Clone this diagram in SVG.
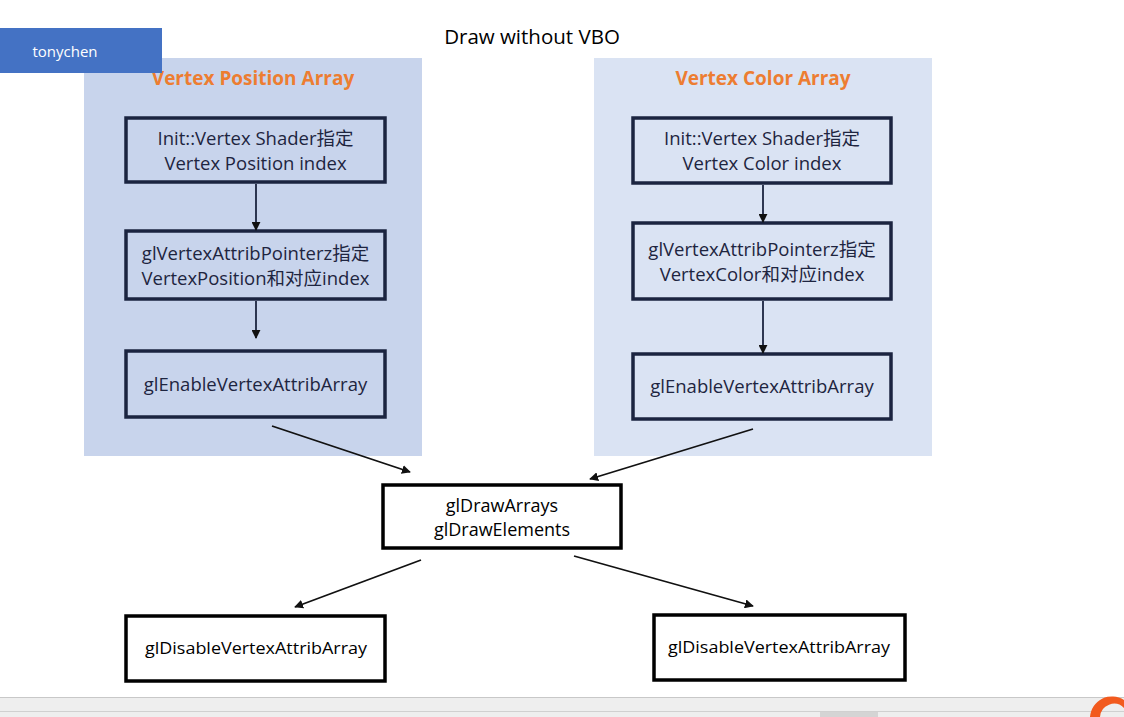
<svg xmlns="http://www.w3.org/2000/svg" width="1124" height="717" viewBox="0 0 1124 717">
<style>
.t{font-family:"Open Sans","Noto Sans","Noto Sans CJK SC",sans-serif;font-size:18.5px;fill:#1E2540;text-anchor:middle}
.tb{font-family:"Open Sans","Noto Sans","Noto Sans CJK SC",sans-serif;font-size:18px;fill:#000;text-anchor:middle}
.pt{font-family:"Open Sans","Noto Sans",sans-serif;font-size:19px;font-weight:bold;fill:#ED7D31;text-anchor:middle}
.box{fill:none;stroke:#1B2440;stroke-width:3.5}
.wbox{fill:#fff;stroke:#000;stroke-width:3.5}
.c{stroke:#1B2440;stroke-width:1.8;fill:none}
.ck{stroke:#111;stroke-width:1.8;fill:none}
</style>
<defs>
<marker id="ah" viewBox="0 0 10 10" refX="9" refY="5" markerWidth="9" markerHeight="9" markerUnits="userSpaceOnUse" orient="auto">
<path d="M0,0 L10,5 L0,10 z" fill="#111"/>
</marker>
</defs>
<rect width="1124" height="717" fill="#fff"/>
<g id="title">
<text x="532" y="44" style="font-family:'Open Sans','Noto Sans',sans-serif;font-size:20.5px;fill:#000;text-anchor:middle">Draw without VBO</text>
</g>
<g id="panel-left">
<rect x="84" y="58" width="338" height="398" fill="#C8D4EC"/>
<text class="pt" x="253" y="85">Vertex Position Array</text>
</g>
<g id="panel-right">
<rect x="594" y="58" width="338" height="398" fill="#DAE3F3"/>
<text class="pt" x="763" y="85">Vertex Color Array</text>
</g>
<g id="tonychen">
<rect x="0" y="28" width="162" height="45" fill="#4472C4"/>
<text x="65" y="57" style="font-family:'Open Sans','Noto Sans',sans-serif;font-size:15px;fill:#fff;text-anchor:middle">tonychen</text>
</g>
<g id="lp1">
<rect class="box" x="126" y="118" width="259" height="64"/>
<text class="t" x="255.5" y="145">Init::Vertex Shader指定</text>
<text class="t" x="255.5" y="170">Vertex Position index</text>
</g>
<g id="lp2">
<rect class="box" x="126" y="231" width="259" height="68"/>
<text class="t" x="255.5" y="260">glVertexAttribPointerz指定</text>
<text class="t" x="255.5" y="285">VertexPosition和对应index</text>
</g>
<g id="lp3">
<rect class="box" x="126" y="351" width="259" height="66"/>
<text class="t" x="255.5" y="391">glEnableVertexAttribArray</text>
</g>
<g id="rc1">
<rect class="box" x="633" y="118" width="258" height="65"/>
<text class="t" x="762" y="145">Init::Vertex Shader指定</text>
<text class="t" x="762" y="170">Vertex Color index</text>
</g>
<g id="rc2">
<rect class="box" x="633" y="223" width="258" height="76"/>
<text class="t" x="762" y="256">glVertexAttribPointerz指定</text>
<text class="t" x="762" y="281">VertexColor和对应index</text>
</g>
<g id="rc3">
<rect class="box" x="633" y="354" width="258" height="65"/>
<text class="t" x="762" y="393">glEnableVertexAttribArray</text>
</g>
<g id="draw">
<rect class="wbox" x="383" y="485" width="238" height="63"/>
<text class="tb" x="502" y="512">glDrawArrays</text>
<text class="tb" x="502" y="536">glDrawElements</text>
</g>
<g id="disable-left">
<rect class="wbox" x="126" y="616" width="259" height="65"/>
<text class="tb" x="256" y="654" style="font-size:17px" textLength="222" lengthAdjust="spacingAndGlyphs">glDisableVertexAttribArray</text>
</g>
<g id="disable-right">
<rect class="wbox" x="654" y="615" width="251" height="65"/>
<text class="tb" x="779" y="653" style="font-size:17px" textLength="222" lengthAdjust="spacingAndGlyphs">glDisableVertexAttribArray</text>
</g>
<g id="connectors">
<line class="c" x1="256" y1="184" x2="256" y2="230" marker-end="url(#ah)"/>
<line class="c" x1="256" y1="301" x2="256" y2="338" marker-end="url(#ah)"/>
<line class="c" x1="763" y1="185" x2="763" y2="222" marker-end="url(#ah)"/>
<line class="c" x1="763" y1="301" x2="763" y2="353" marker-end="url(#ah)"/>
<line class="ck" x1="272" y1="426" x2="410" y2="472" marker-end="url(#ah)"/>
<line class="ck" x1="753" y1="429" x2="590" y2="479" marker-end="url(#ah)"/>
<line class="ck" x1="421" y1="560" x2="295" y2="607" marker-end="url(#ah)"/>
<line class="ck" x1="574" y1="556" x2="753" y2="606" marker-end="url(#ah)"/>
</g>
<g id="bottom-bar">
<rect x="0" y="697" width="1124" height="20" fill="#EEEEEE"/>
<line x1="0" y1="697.5" x2="1124" y2="697.5" stroke="#C8C8C8"/>
<line x1="0" y1="711.5" x2="1124" y2="711.5" stroke="#D0D0D0"/>
<rect x="820" y="712" width="58" height="5" fill="#D4D4D4"/>
<path d="M1090,717 A22,22 0 0 1 1124,700 L1124,708 A14,14 0 0 0 1100,717 z" fill="#F25A1E"/>
</g>
</svg>
